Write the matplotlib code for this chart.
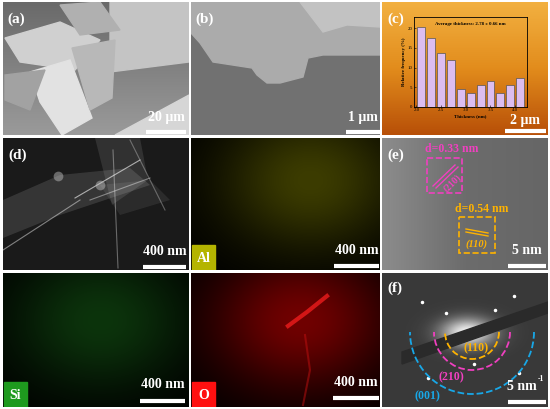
import matplotlib.pyplot as plt
import numpy as np
from matplotlib.colors import LinearSegmentedColormap
from matplotlib.patches import Rectangle, Polygon, Arc

plt.rcParams['font.family'] = ['Liberation Serif', 'DejaVu Serif']

# histogram in panel (c)
thickness = [2.1, 2.3, 2.5, 2.7, 2.9, 3.1, 3.3, 3.5, 3.7, 3.9, 4.1]
frequency = [20.2, 17.4, 13.8, 11.9, 4.5, 3.6, 5.5, 6.5, 3.6, 5.5, 7.3]
x_ticks = [2.0, 2.5, 3.0, 3.5, 4.0]
y_ticks = [0, 5, 10, 15, 20]
avg_text = "Average thickness: 2.78 \u00b1 0.66 nm"

panel_labels = ["(a)", "(b)", "(c)", "(d)", "(e)", "(f)"]
scale_texts = ["20 \u03bcm", "1 \u03bcm", "2 \u03bcm", "400 nm", "400 nm",
               "5 nm", "400 nm", "400 nm", "5 nm"]
eds_elements = ["Al", "Si", "O"]
eds_colors = ["#b4b400", "#1e9a1e", "#ff1010"]
eds_glow = ["#3c3c00", "#0c340c", "#700000"]
d_spacings = ["d=0.33 nm", "d=0.54 nm"]
planes_e = ["(210)", "(110)"]
rings = ["(110)", "(210)", "(001)"]
ring_colors = ["#ffb300", "#f040c0", "#18a8e8"]

W, H = 550, 409
fig = plt.figure(figsize=(5.5, 4.09), dpi=100)
fig.patch.set_facecolor("white")


def panel(x0, y0, x1, y1, bg):
    ax = fig.add_axes([x0 / W, 1 - y1 / H, (x1 - x0) / W, (y1 - y0) / H])
    ax.set_xlim(x0, x1)
    ax.set_ylim(y1, y0)
    ax.axis("off")
    ax.add_patch(Rectangle((x0, y0), x1 - x0, y1 - y0, color=bg, zorder=0))
    return ax


def gradient(ax, ext, colors, horizontal=False):
    g = np.linspace(0, 1, 64)
    g = g[None, :] if horizontal else g[:, None]
    cm = LinearSegmentedColormap.from_list("g", colors)
    ax.imshow(g, cmap=cm, extent=ext, aspect="auto", zorder=0.5)


def glow(ax, x0, x1, y0, y1, cx, cy, sx, sy, c0, c1):
    yy, xx = np.mgrid[y0:y1, x0:x1]
    g = np.exp(-(((xx - cx) / sx) ** 2 + ((yy - cy) / sy) ** 2))
    cm = LinearSegmentedColormap.from_list("s", [c0, c1])
    ax.imshow(g, cmap=cm, extent=(x0, x1, y1, y0), aspect="auto", zorder=0.5,
              vmin=0, vmax=1)


def label(ax, x, y, t):
    ax.text(x, y, t, color="white", fontsize=11, fontweight="bold",
            ha="left", va="center", zorder=10)


def scalebar(ax, x0, x1, ybar, t, ytext):
    ax.plot([x0, x1], [ybar, ybar], color="white", lw=3,
            solid_capstyle="butt", zorder=10)
    ax.text((x0 + x1) / 2, ytext, t, color="white", fontsize=10,
            fontweight="bold", ha="center", va="bottom", zorder=10)


cols = [(3, 189), (191, 380), (382, 548)]
rows = [(2, 135), (138, 270), (273, 407)]

# (a) SEM
x0, x1 = cols[0]; y0, y1 = rows[0]
ax = panel(x0, y0, x1, y1, "#7a7a7a")
gradient(ax, (x0, x1, y1, y0), ["#6a6a6a", "#9a9a9a"])
for pts, c in [([(110, 2), (189, 2), (189, 62), (110, 72)], "#c4c4c4"),
               ([(115, 135), (189, 95), (189, 135)], "#d6d6d6"),
               ([(5, 38), (60, 22), (100, 40), (75, 70), (20, 62)], "#d0d0d0"),
               ([(30, 72), (70, 60), (92, 118), (62, 135), (40, 102)], "#e2e2e2"),
               ([(72, 48), (115, 40), (112, 98), (90, 110)], "#b8b8b8"),
               ([(5, 75), (45, 70), (30, 110), (5, 100)], "#a2a2a2"),
               ([(60, 5), (100, 2), (120, 30), (80, 35)], "#b0b0b0")]:
    ax.add_patch(Polygon(pts, color=c, zorder=1))
label(ax, 7, 19, panel_labels[0])
scalebar(ax, 146, 186, 132, scale_texts[0], 124)

# (b) SEM
x0, x1 = cols[1]; y0, y1 = rows[0]
ax = panel(x0, y0, x1, y1, "#717171")
ax.add_patch(Polygon([(191, 2), (380, 2), (380, 55), (323, 55), (308, 58),
                      (303, 77), (280, 83), (267, 83), (257, 75), (252, 68),
                      (213, 62), (200, 43), (191, 33)], color="#ababab", zorder=1))
ax.add_patch(Polygon([(300, 2), (380, 2), (380, 27), (347, 25), (323, 32)],
                     color="#c2c2c2", zorder=2))
label(ax, 195, 19, panel_labels[1])
scalebar(ax, 346, 380, 132, scale_texts[1], 124)

# (c) AFM + histogram
x0, x1 = cols[2]; y0, y1 = rows[0]
ax = panel(x0, y0, x1, y1, "#e08a1a")
gradient(ax, (x0, x1, y1, y0), ["#f2b040", "#e28c1c", "#b85008"])
label(ax, 387, 19, panel_labels[2])
scalebar(ax, 505, 546, 131, scale_texts[2], 127)

axh = fig.add_axes([414 / W, 1 - 107 / H, 113 / W, 90 / H])
axh.set_facecolor("none")
axh.bar(thickness, frequency, width=0.16, color="#dcbdf0",
        edgecolor="#555555", linewidth=0.5)
axh.set_xlim(1.95, 4.24)
axh.set_ylim(0, 22.8)
axh.set_xticks(x_ticks)
axh.set_yticks(y_ticks)
axh.tick_params(labelsize=3.5, length=1.5, width=0.4, pad=1, direction="in")
for s in axh.spines.values():
    s.set_linewidth(0.6)
axh.set_xlabel("Thickness (nm)", fontsize=3.5, fontweight="bold", labelpad=1)
axh.set_ylabel("Relative frequency (%)", fontsize=3.5, fontweight="bold",
               labelpad=1)
axh.text(0.5, 0.95, avg_text, transform=axh.transAxes, fontsize=3.5,
         fontweight="bold", ha="center", va="top")

# (d) STEM
x0, x1 = cols[0]; y0, y1 = rows[1]
ax = panel(x0, y0, x1, y1, "#1a1a1a")
for pts, a in [([(3, 200), (60, 175), (130, 168), (150, 185), (60, 215), (3, 238)], 0.12),
               ([(95, 138), (140, 138), (148, 180), (112, 205)], 0.1),
               ([(100, 185), (150, 180), (170, 200), (120, 215)], 0.08)]:
    ax.add_patch(Polygon(pts, color="white", alpha=a, lw=0, zorder=1))
for (xa, ya), (xb, yb), a in [((3, 250), (80, 200), 0.45), ((113, 150), (118, 268), 0.35),
                              ((75, 198), (140, 160), 0.6), ((90, 200), (150, 178), 0.4),
                              ((130, 140), (165, 210), 0.3)]:
    ax.plot([xa, xb], [ya, yb], color="white", alpha=a, lw=0.8, zorder=2)
ax.plot([58, 100], [176, 185], "o", color="#c8c8c8", ms=7, alpha=0.45,
        mew=0, zorder=2)
label(ax, 8, 155, panel_labels[3])
scalebar(ax, 143, 186, 267, scale_texts[3], 258)

# EDS maps: Al, Si, O
eds_cells = [(cols[1], rows[1]), (cols[0], rows[2]), (cols[1], rows[2])]
eds_bars = [(334, 379, 266, 257, 4), (140, 185, 401, 391, 6), (333, 379, 398, 389, 7)]
eds_centres = [(310, 180), (100, 320), (300, 320)]
for k, ((x0, x1), (y0, y1)) in enumerate(eds_cells):
    ax = panel(x0, y0, x1, y1, "black")
    cx, cy = eds_centres[k]
    glow(ax, x0, x1, y0, y1, cx, cy, 90, 70, "#000000", eds_glow[k])
    if k == 2:
        ax.plot([288, 307, 327], [326, 312, 296], color="#ff2020", lw=3,
                alpha=0.7, zorder=1)
        ax.plot([305, 310, 303], [335, 370, 405], color="#c01010", lw=1.5,
                alpha=0.5, zorder=1)
    ax.add_patch(Rectangle((x0 + 1, y1 - 25), 23, 25, color=eds_colors[k], zorder=3))
    ax.text(x0 + 12.5, y1 - 12, eds_elements[k], color="white", fontsize=10,
            fontweight="bold", ha="center", va="center", zorder=4)
    bx0, bx1, by, ty, si = eds_bars[k]
    scalebar(ax, bx0, bx1, by, scale_texts[si], ty)

# (e) HRTEM
x0, x1 = cols[2]; y0, y1 = rows[1]
ax = panel(x0, y0, x1, y1, "#6c6c6c")
gradient(ax, (x0, x1, y1, y0), ["#8c8c8c", "#6c6c6c", "#666666"], horizontal=True)
pink, orange = "#f040c0", "#ffb300"
ax.add_patch(Rectangle((427, 158), 35, 35, fill=False, ec=pink, ls="--", lw=1.2, zorder=3))
ax.plot([433, 455], [186, 165], color=pink, lw=1, zorder=3)
ax.plot([436, 458], [188, 167], color=pink, lw=1, zorder=3)
ax.text(452, 149, d_spacings[0], color=pink, fontsize=8.5, fontweight="bold",
        ha="center", va="center", zorder=4)
ax.text(453, 183, planes_e[0], color=pink, fontsize=7, fontweight="bold",
        rotation=45, ha="center", va="center", zorder=4)
ax.add_patch(Rectangle((459, 217), 36, 36, fill=False, ec=orange, ls="--", lw=1.2, zorder=3))
ax.plot([466, 488], [229, 233], color=orange, lw=1, zorder=3)
ax.plot([466, 488], [232, 236], color=orange, lw=1, zorder=3)
ax.text(482, 209, d_spacings[1], color=orange, fontsize=8.5, fontweight="bold",
        ha="center", va="center", zorder=4)
ax.text(477, 244, planes_e[1], color=orange, fontsize=7.5, fontweight="bold",
        style="italic", ha="center", va="center", zorder=4)
label(ax, 387, 155, panel_labels[4])
scalebar(ax, 508, 546, 266, scale_texts[5], 257)

# (f) SAED
x0, x1 = cols[2]; y0, y1 = rows[2]
ax = panel(x0, y0, x1, y1, "#3a3a3a")
glow(ax, x0, x1, y0, y1, 467, 332, 26, 14, "#3a3a3a", "#f4f4f4")
ax.add_patch(Polygon([(402, 352), (548, 302), (548, 313), (402, 364)],
                     color="#2a2a2a", zorder=1))
ax.plot([422, 514, 446, 495, 474, 428, 519], [302, 296, 313, 310, 364, 378, 373], "o",
        color="white", ms=1.5, zorder=2)
cx, cy = 472, 332
for r, c in zip([27, 38, 62], ring_colors):
    ax.add_patch(Arc((cx, cy), 2 * r, 2 * r, theta1=0, theta2=180, color=c,
                     ls="--", lw=1.3, zorder=3))
for t, c, (tx, ty) in zip(rings, ring_colors, [(476, 348), (451, 377), (427, 396)]):
    ax.text(tx, ty, t, color=c, fontsize=8.5, fontweight="bold",
            ha="center", va="center", zorder=4)
label(ax, 387, 288, panel_labels[5])
ax.plot([508, 546], [402, 402], color="white", lw=3, solid_capstyle="butt", zorder=10)
ax.text(537, 393, scale_texts[8], color="white", fontsize=10, fontweight="bold",
        ha="right", va="bottom", zorder=10)
ax.text(538, 383, "-1", color="white", fontsize=5.5, fontweight="bold",
        ha="left", va="bottom", zorder=10)

fig.savefig("out.png", dpi=100)
